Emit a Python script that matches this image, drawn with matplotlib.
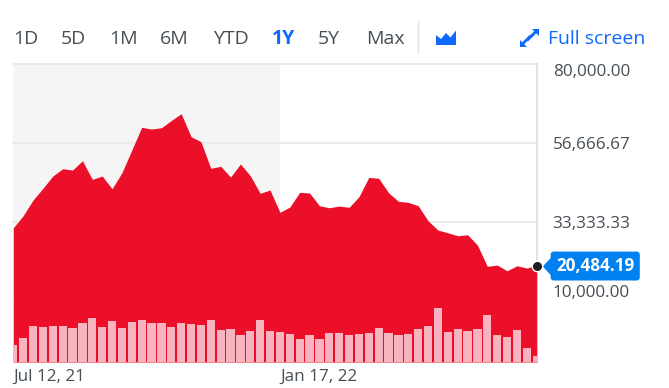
import matplotlib
matplotlib.use("Agg")
import matplotlib.pyplot as plt
import matplotlib.dates as mdates
from matplotlib.patches import Polygon
from matplotlib.ticker import FixedLocator, FuncFormatter
import pandas as pd

plt.rcParams['font.family'] = ['Open Sans', 'DejaVu Sans']

# ---------------- data ----------------
start_date = "2021-07-12"
n_weeks = 54
prices = [31640, 35190, 39830, 43280, 46920, 49070, 48690, 51430, 45940, 46920,
          43160, 47890, 54600, 61300, 60800, 61180, 63310, 65320, 58520, 57050,
          49190, 49780, 46620, 50460, 47000, 41800, 42780, 36190, 37760, 42100,
          41890, 38140, 37550, 38050, 37670, 40800, 46530, 46240, 41980, 39440,
          39150, 38140, 33710, 30960, 30170, 29280, 29580, 26530, 20240, 20620,
          18940, 20420, 19740, 20484.19]
volumes = [16.6, 24.3, 36.3, 34.6, 35.6, 36.0, 34.3, 39.0, 44.3, 34.6,
           41.0, 34.0, 39.6, 42.3, 39.0, 39.0, 35.0, 39.3, 38.3, 37.0,
           42.0, 32.0, 33.0, 27.0, 31.3, 42.0, 30.6, 30.0, 27.6, 22.6,
           27.0, 22.6, 29.0, 29.0, 27.3, 28.3, 29.0, 34.3, 29.0, 27.0,
           28.3, 33.3, 36.3, 54.0, 30.3, 33.0, 31.3, 33.3, 47.0, 27.3,
           24.6, 32.0, 14.0, 6.3]
y_ticks = [80000, 56666.67, 33333.33, 10000]
x_tick_dates = ["2021-07-12", "2022-01-17"]
x_tick_labels = ["Jul 12, 21", "Jan 17, 22"]
shade_end = "2022-01-17"
range_buttons = ["1D", "5D", "1M", "6M", "YTD", "1Y", "5Y", "Max"]
active_button = "1Y"

dates = pd.date_range(start_date, periods=n_weeks, freq="7D")

RED = "#eb0f29"
PINK = "#f8b4be"
BLUE = "#0f69ff"
TXT = "#464e56"
GRID = "#e8e8ec"

W, H = 669, 388
fig = plt.figure(figsize=(W / 100, H / 100), dpi=100)

def fx(px):
    return px / W

def fy(py):
    return 1 - py / H

left, right, top, bottom = 13.3, 536.7, 64, 362
ax = fig.add_axes([fx(left), fy(bottom), fx(right - left), (bottom - top) / H])
ax.set_zorder(1)

ax.axvspan(dates[0], pd.Timestamp(shade_end), color="#f5f5f5", zorder=0, lw=0)
for v in y_ticks:
    ax.axhline(v, color=GRID, lw=1.2, zorder=1, clip_on=False)
ax.fill_between(dates, prices, -8000, color=RED, lw=0, zorder=2)

ax.set_xlim(dates[0], dates[-1])
ax.set_ylim(-8000, 80000)

for s in ["left", "bottom", "top"]:
    ax.spines[s].set_visible(False)
ax.spines["right"].set_color("#dcdce4")
ax.spines["right"].set_linewidth(1.2)
ax.spines["right"].set_zorder(1.5)

ax.yaxis.tick_right()
ax.yaxis.set_major_locator(FixedLocator(y_ticks))
ax.yaxis.set_major_formatter(FuncFormatter(lambda v, p: f"{v:,.2f}"))
ax.tick_params(axis="y", length=0, pad=11.5, labelsize=12.3, labelcolor=TXT)
ax.set_xticks(pd.to_datetime(x_tick_dates))
ax.set_xticklabels(x_tick_labels)
ax.tick_params(axis="x", length=0, pad=5, labelsize=12.3, labelcolor=TXT)
for lab in ax.get_xticklabels():
    lab.set_horizontalalignment("left")
ylabs = ax.get_yticklabels()
ylabs[0].set_verticalalignment("top")
ylabs[-1].set_verticalalignment("bottom")

# volume bars
ax2 = fig.add_axes(ax.get_position(), sharex=ax, frameon=False)
ax2.set_zorder(2)
ax2.patch.set_visible(False)
ax2.bar(dates, volumes, width=5.9, color=PINK, lw=0)
ax2.set_ylim(0, bottom - top)
ax2.set_xlim(dates[0], dates[-1])
ax2.axis("off")

# last price marker and label
ax3 = fig.add_axes(ax.get_position(), sharex=ax, sharey=ax, frameon=False)
ax3.set_zorder(3)
ax3.patch.set_visible(False)
ax3.axis("off")
ax3.plot([dates[-1]], [prices[-1]], "o", color="#1e1e1e", ms=7.5, mec="white",
         mew=1.0, clip_on=False, zorder=5)
ax3.annotate(f"{prices[-1]:,.2f}", xy=(dates[-1], prices[-1]), xytext=(58.5, -0.5),
             textcoords="offset pixels", ha="center", va="center",
             color="white", fontsize=12.3, fontweight="bold",
             bbox=dict(boxstyle="round,pad=0.32,rounding_size=0.2", fc="#0081f2",
                       ec="none"), zorder=4, annotation_clip=False)
from matplotlib.transforms import offset_copy
tr = offset_copy(ax3.transData, fig=fig, x=10.5, y=0, units="dots")
ax3.plot([dates[-1]], [prices[-1]], marker=[(-0.45, 0), (0.5, 1), (0.5, -1)],
         ms=15.5, color="#0081f2", mew=0, transform=tr, clip_on=False, zorder=3)

# toolbar
btn_x = [13.3, 61, 109, 160, 212.7, 271.7, 318, 365.7]
for lbl, x in zip(range_buttons, btn_x):
    active = lbl == active_button
    fig.text(fx(x), fy(43.5), lbl, fontsize=14, ha="left", va="baseline",
             color=BLUE if active else TXT, fontweight="bold" if active else "normal")
fig.add_artist(plt.Line2D([fx(418), fx(418)], [fy(21), fy(53)], color="#e2e2e2", lw=1))
icon = [(436, 45), (436, 35), (441, 39), (446, 33), (450.5, 37.5), (456, 30.5), (456, 45)]
fig.add_artist(Polygon([(fx(a), fy(b)) for a, b in icon], closed=True, fc=BLUE, ec="none"))
fig.text(fx(548), fy(44), "Full screen", fontsize=14, ha="left", va="baseline", color=BLUE)
fig.add_artist(plt.Line2D([fx(528), fx(536)], [fy(39.5), fy(31.5)], color=BLUE, lw=2))
fig.add_artist(Polygon([(fx(a), fy(b)) for a, b in [(531.5, 28.5), (539, 28.5), (539, 36)]],
                       closed=True, fc=BLUE, ec="none"))
fig.add_artist(plt.Line2D([fx(522), fx(530)], [fy(44.5), fy(36.5)], color=BLUE, lw=2))
fig.add_artist(Polygon([(fx(a), fy(b)) for a, b in [(519.5, 39.5), (519.5, 47), (527, 47)]],
                       closed=True, fc=BLUE, ec="none"))

fig.savefig("out.png", dpi=100)
